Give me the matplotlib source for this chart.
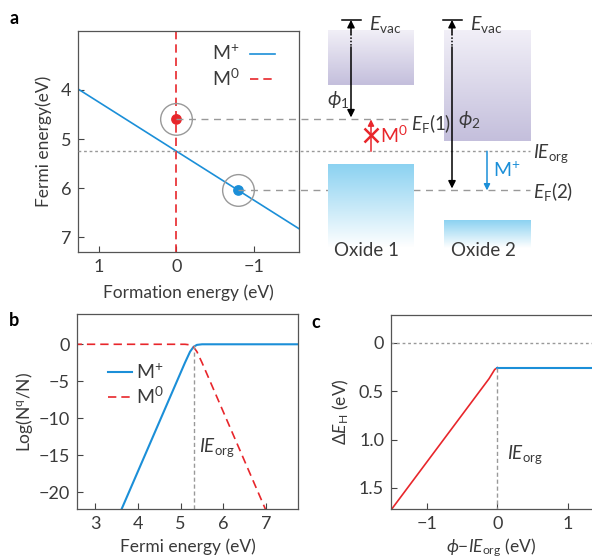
import numpy as np
import matplotlib.pyplot as plt
from matplotlib.colors import to_rgb

plt.rcParams['font.family'] = ['Lato', 'DejaVu Sans']
plt.rcParams['mathtext.fontset'] = 'custom'
plt.rcParams['mathtext.rm'] = 'Lato'
plt.rcParams['mathtext.it'] = 'Lato:italic'
plt.rcParams['mathtext.bf'] = 'Lato:bold'
plt.rcParams['font.size'] = 12.5
plt.rcParams['text.color'] = '#3a3a3a'
plt.rcParams['axes.labelcolor'] = '#3a3a3a'
plt.rcParams['xtick.color'] = '#444444'
plt.rcParams['ytick.color'] = '#444444'
plt.rcParams['xtick.labelcolor'] = '#3a3a3a'
plt.rcParams['ytick.labelcolor'] = '#3a3a3a'
plt.rcParams['axes.edgecolor'] = '#555555'

BLUE = '#1b8fd8'
RED = '#e8262b'
GREY = '#999999'
TXT = '#3a3a3a'

# ---- data: panel a (formation energy vs Fermi energy)
form_plus = [1.3, -1.6]
fermi_plus = [3.95, 6.85]
form_zero = [0.0, 0.0]
fermi_zero = [2.8, 7.31]
ie_org = 5.25
dot_form = [0.0, -0.8]
dot_fermi = [4.6, 6.05]          # E_F(1), E_F(2)
dot_colors = [RED, BLUE]

# schematic energy levels (same scale as panel a)
e_vac = 2.57
band_top = [2.78, 2.78]          # upper (purple) bands, oxide 1 / oxide 2
band_top_bot = [3.90, 5.04]
band_low = [5.51, 6.65]          # lower (blue) bands
band_low_bot = 7.22
oxide_names = ['Oxide 1', 'Oxide 2']

# ---- data: panel b
ef_plus = [3.6, 5.1, 5.22, 5.3, 5.38, 5.5, 7.8]
logn_plus = [-22.6, -2.5, -1.0, -0.35, -0.08, 0.0, 0.0]
ef_zero = [2.5, 5.1, 5.22, 5.3, 5.38, 5.5, 7.0]
logn_zero = [0.0, 0.0, -0.08, -0.35, -1.0, -2.5, -22.6]
ie_b = 5.31

# ---- data: panel c
dphi_red = [-1.55, -0.12, -0.04, 0.0]
deh_red = [1.77, 0.37, 0.275, 0.255]
dphi_blue = [0.0, 1.4]
deh_blue = [0.255, 0.255]

W, H = 592, 560
fig = plt.figure(figsize=(W / 100, H / 100), dpi=100)


def box(l, t, r, b):
    return [l / W, 1 - b / H, (r - l) / W, (b - t) / H]


axa = fig.add_axes(box(78, 31, 299, 252))
axd = fig.add_axes(box(299, 31, 592, 252))
axb = fig.add_axes(box(77, 314, 298, 509))
axc = fig.add_axes(box(391, 315, 592, 509))

for ax in (axa, axb, axc):
    ax.tick_params(direction='in', length=4, width=0.8, pad=5, labelsize=13)
    for s in ax.spines.values():
        s.set_linewidth(0.9)

# ================= panel a
axa.plot(form_plus, fermi_plus, color=BLUE, lw=1.2, label='M$^{+}$')
axa.plot(form_zero, fermi_zero, color=RED, lw=1.2, ls=(0, (5, 3)), label='M$^{0}$')
axa.scatter(dot_form, dot_fermi, s=45, c=dot_colors, zorder=5)
axa.scatter(dot_form, dot_fermi, s=520, facecolors='none', edgecolors=GREY, lw=1.0, zorder=5)
axa.set_xlim(1.271, -1.581)
axa.set_ylim(7.306, 2.796)
axa.set_xticks([1, 0, -1])
axa.set_yticks([4, 5, 6, 7])
axa.set_xlabel('Formation energy (eV)', labelpad=7)
axa.set_ylabel('Fermi energy(eV)', labelpad=6)
axa.legend(loc='upper right', bbox_to_anchor=(0.97, 1.02), frameon=False, markerfirst=False,
           handlelength=1.3, handletextpad=0.5, labelspacing=0.2, fontsize=14)

# ================= schematic
axd.set_xlim(299, 592)
axd.set_ylim(7.306, 2.796)
axd.axis('off')


def gradient_box(x0, x1, ytop, ybot, c_top, c_bot):
    n = 64
    t = np.linspace(0, 1, n)[:, None]
    a, b = np.array(to_rgb(c_top)), np.array(to_rgb(c_bot))
    img = (a * (1 - t) + b * t)[:, None, :]
    axd.imshow(img, extent=[x0, x1, ybot, ytop], aspect='auto', origin='upper',
               zorder=3, clip_on=False, interpolation='bilinear')


ox_x = [(328, 414), (444, 531)]
for i, (x0, x1) in enumerate(ox_x):
    gradient_box(x0, x1, band_top[i], band_top_bot[i], '#f1eff7', '#c4bfdc')
    gradient_box(x0, x1, band_low[i], band_low_bot, '#8cd2f1', '#ffffff')
    axd.text((x0 + x1) / 2 - 4, 7.28, oxide_names[i], ha='center', va='center', fontsize=13.5, color=TXT)

# level lines continuing from panel a


def to_d(xa, ya):
    return axd.transData.inverted().transform(axa.transData.transform((xa, ya)))[0]


xa_left = axa.get_xlim()[0]
axd.plot([to_d(dot_form[0], dot_fermi[0]), 408], [dot_fermi[0]] * 2, color=GREY, lw=1.0,
         ls=(0, (5, 4)), clip_on=False, zorder=2)
axd.plot([to_d(dot_form[1], dot_fermi[1]), 530], [dot_fermi[1]] * 2, color=GREY, lw=1.0,
         ls=(0, (5, 4)), clip_on=False, zorder=2)
axd.plot([to_d(xa_left, ie_org), 530], [ie_org] * 2, color=GREY, lw=1.0,
         ls=(0, (2, 2)), clip_on=False, zorder=2)

# vacuum levels and work function arrows
arr = dict(arrowstyle='-|>', color='black', lw=1.1, mutation_scale=11, shrinkA=0, shrinkB=0)
for xc, ef in [(351, dot_fermi[0]), (452, dot_fermi[1])]:
    axd.plot([xc - 9, xc + 10], [e_vac, e_vac], color='black', lw=1.1, clip_on=False, zorder=4)
    axd.annotate('', xy=(xc, e_vac), xytext=(xc, 2.85), arrowprops=arr, zorder=4, annotation_clip=False)
    axd.plot([xc, xc], [2.85, 3.12], color='black', lw=1.1, ls=(0, (1, 1.2)), zorder=4, clip_on=False)
    axd.annotate('', xy=(xc, ef - 0.04), xytext=(xc, 3.12), arrowprops=arr, zorder=4, annotation_clip=False)
    axd.text(xc + 18, e_vac + 0.1, '$E_{\\rm vac}$', fontsize=14, va='center', ha='left', color=TXT)

axd.text(327, 4.2, '$\\phi_1$', fontsize=14, va='center', ha='left', color=TXT)
axd.text(458, 4.6, '$\\phi_2$', fontsize=14, va='center', ha='left', color=TXT)
axd.text(411, 4.69, '$E_{\\rm F}$(1)', fontsize=13.5, va='center', ha='left', color=TXT)
axd.text(533, 5.3, '$IE_{\\rm org}$', fontsize=13.5, va='center', ha='left', color=TXT)
axd.text(533, 6.08, '$E_{\\rm F}$(2)', fontsize=13.5, va='center', ha='left', color=TXT)

# M0 blocked, M+ allowed
axd.annotate('', xy=(371, dot_fermi[0]), xytext=(371, ie_org),
             arrowprops=dict(arrowstyle='-|>', color=RED, lw=1.1, mutation_scale=9, shrinkA=0, shrinkB=0),
             zorder=4, annotation_clip=False)
axd.plot([371], [4.92], marker='x', ms=10, mew=1.8, color=RED, zorder=5)
axd.text(380, 4.93, 'M$^{0}$', color=RED, fontsize=14, va='center', ha='left')
axd.annotate('', xy=(487, dot_fermi[1]), xytext=(487, ie_org),
             arrowprops=dict(arrowstyle='-|>', color=BLUE, lw=1.1, mutation_scale=9, shrinkA=0, shrinkB=0),
             zorder=4, annotation_clip=False)
axd.text(493, 5.63, 'M$^{+}$', color=BLUE, fontsize=14, va='center', ha='left')

# ================= panel b
axb.plot(ef_plus, logn_plus, color=BLUE, lw=1.5, label='M$^{+}$')
axb.plot(ef_zero, logn_zero, color=RED, lw=1.2, ls=(0, (5, 3)), label='M$^{0}$')
axb.plot([ie_b, ie_b], [-22.3, 0], color=GREY, lw=1.0, ls=(0, (3, 2)))
axb.text(5.42, -14.0, '$IE_{\\rm org}$', fontsize=13.5, va='center', ha='left', color=TXT)
axb.set_xlim(2.58, 7.74)
axb.set_ylim(-22.3, 4.1)
axb.set_xticks([3, 4, 5, 6, 7])
axb.set_yticks([0, -5, -10, -15, -20])
axb.set_xlabel('Fermi energy (eV)', labelpad=5)
axb.set_ylabel('Log(N$^{\\rm q}$/N)', labelpad=3)
axb.legend(loc='upper left', bbox_to_anchor=(0.06, 0.84), frameon=False,
           handlelength=1.25, handletextpad=0.2, labelspacing=0.2, fontsize=14)

# ================= panel c
axc.plot(dphi_red, deh_red, color=RED, lw=1.2)
axc.plot(dphi_blue, deh_blue, color=BLUE, lw=1.5)
axc.axhline(0, color=GREY, lw=1.0, ls=(0, (2, 2)))
axc.plot([0, 0], [deh_blue[0], 1.72], color=GREY, lw=1.0, ls=(0, (3, 2)))
axc.text(0.14, 1.16, '$IE_{\\rm org}$', fontsize=13.5, va='center', ha='left', color=TXT)
axc.set_xlim(-1.51, 1.34)
axc.set_ylim(1.72, -0.29)
axc.set_xticks([-1, 0, 1])
axc.set_yticks([0, 0.5, 1.0, 1.5])
axc.set_yticklabels(['0', '0.5', '1.0', '1.5'])
axc.spines['right'].set_visible(False)
axc.set_xlabel('$\\phi$\u2212$IE_{\\rm org}$ (eV)', labelpad=3)
axc.set_ylabel('$\\Delta E_{\\rm H}$ (eV)', labelpad=6)

# panel letters
for lbl, x, y in [('a', 14, 18), ('b', 14, 321), ('c', 316, 322)]:
    fig.text(x / W, 1 - y / H, lbl, fontsize=13, fontweight='bold', ha='center', va='center', color='black')

fig.savefig('out.png', dpi=100)
